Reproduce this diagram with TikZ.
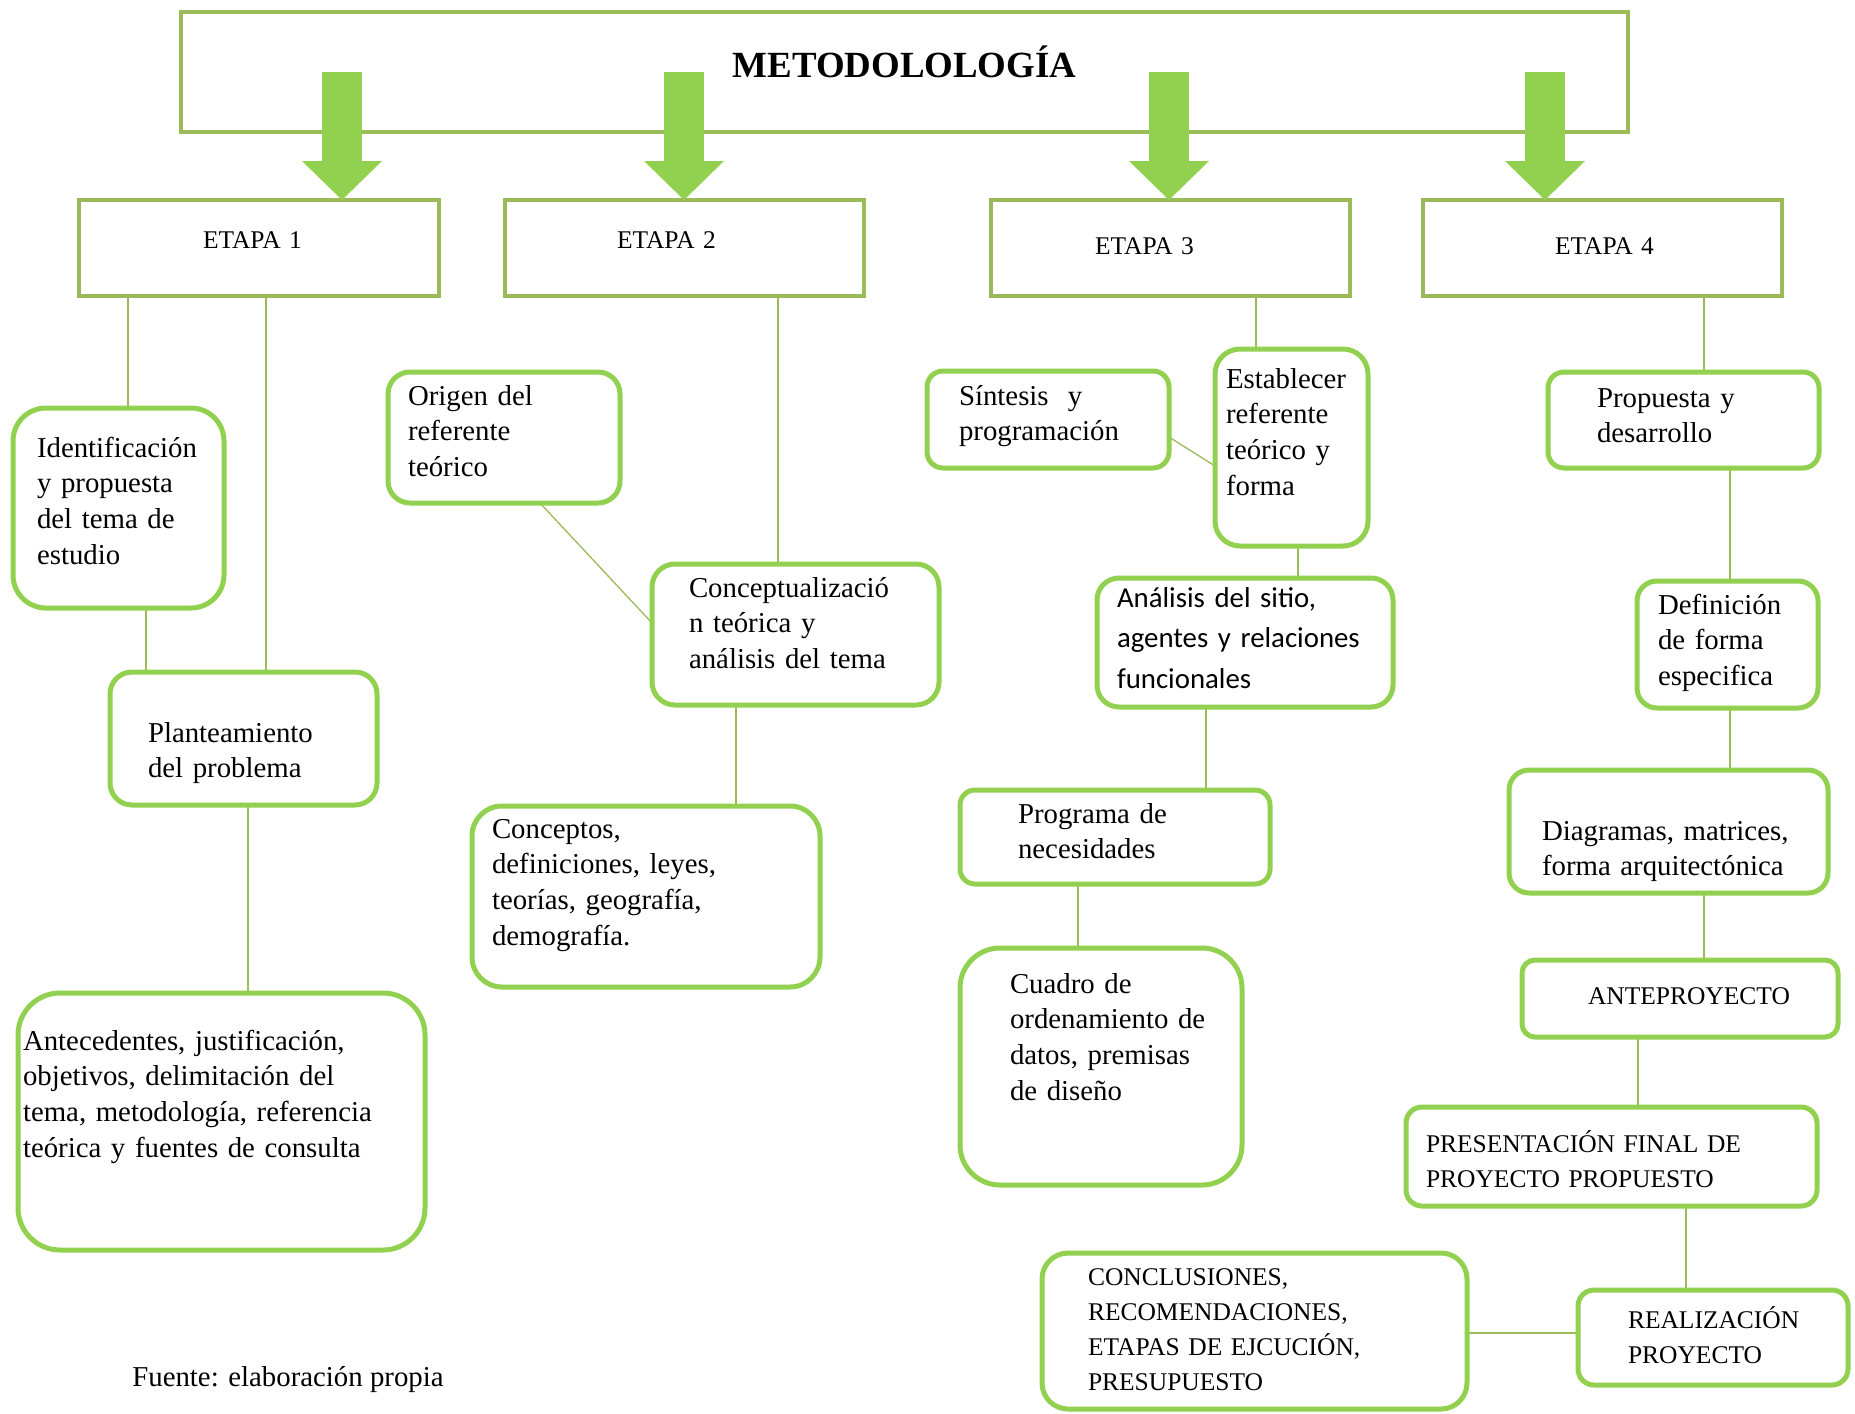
\documentclass[tikz,border=0pt]{standalone}
\usepackage{fontspec}
\setmainfont{Liberation Serif}
\newfontfamily\calibri{Carlito}
\usepackage{tikz}
\usepackage{xcolor}
\usetikzlibrary{arrows.meta,backgrounds}
\definecolor{oliveline}{HTML}{9BBB59}
\definecolor{leafgreen}{HTML}{92D050}
\newlength\px
\setlength\px{0.02cm}
\newcommand\boxfont{\fontsize{16.4}{20.4}\selectfont}
\newcommand\capfont{\fontsize{14.5}{20}\selectfont}
\newcommand\headfont{\fontsize{21}{25}\selectfont\bfseries}
\hyphenpenalty=10000
\exhyphenpenalty=10000
\tikzset{
  lpad/.style={execute at begin node={\leftskip=#1\relax}},
  stagebox/.style={draw=oliveline,line width=3.5\px,fill=white,anchor=north west,
                   inner sep=0pt,outer sep=0pt,align=left,font=\capfont},
  ideabox/.style={draw=leafgreen,line width=5\px,fill=white,anchor=north west,
                  inner sep=0pt,outer sep=0pt,align=left,font=\boxfont},
  capbox/.style={ideabox,font=\capfont},
  link/.style={draw=oliveline,line width=1.3\px},
  bigarrow/.style={draw=leafgreen,line width=0.8cm,
                   -{Triangle[length=0.78cm 0,width=1.6cm 0,line width=0pt 0 0]}}
}

\begin{document}
\begin{tikzpicture}[x=0.02cm,y=-0.02cm]
  \useasboundingbox (0,0) rectangle (1855,1413);
  \node[stagebox,align=center,font=\headfont,text width=1447\px,text height=65\px,text depth=55\px] (metod) at (181,12) {METODOLOLOGÍA};
  \node[stagebox,text width=360\px,text height=48\px,text depth=48\px,lpad=124\px] (e1) at (79,200) {ETAPA 1};
  \node[stagebox,text width=359\px,text height=48\px,text depth=48\px,lpad=112\px] (e2) at (505,200) {ETAPA 2};
  \node[stagebox,text width=359\px,text height=54\px,text depth=42\px,lpad=104\px] (e3) at (991,200) {ETAPA 3};
  \node[stagebox,text width=359\px,text height=54\px,text depth=42\px,lpad=132\px] (e4) at (1423,200) {ETAPA 4};
  % etapa 1
  \node[ideabox,rounded corners=33\px,text width=211\px,text height=49\px,text depth=151\px,lpad=24\px] (ident) at (13,408) {Identificación\\y propuesta\\del tema de\\estudio};
  \node[ideabox,rounded corners=22\px,text width=267\px,text height=70\px,text depth=63\px,lpad=38\px] (plant) at (110,672) {Planteamiento\\del problema};
  \node[ideabox,rounded corners=42\px,text width=407\px,text height=57\px,text depth=200\px,lpad=5\px] (antec) at (18,993) {Antecedentes, justificación,\\objetivos, delimitación del\\tema, metodología, referencia\\teórica y fuentes de consulta};
  % etapa 2
  \node[ideabox,rounded corners=22\px,text width=232\px,text height=33\px,text depth=98\px,lpad=20\px] (origen) at (388,372) {Origen del\\referente\\teórico};
  \node[ideabox,rounded corners=23\px,text width=287\px,text height=33\px,text depth=108\px,lpad=37\px] (concep) at (652,564) {Conceptualizació\\n teórica y\\análisis del tema};
  \node[ideabox,rounded corners=30\px,text width=348\px,text height=32\px,text depth=149\px,lpad=20\px] (concepts) at (472,806) {Conceptos,\\definiciones, leyes,\\teorías, geografía,\\demografía.};
  % etapa 3
  \node[ideabox,rounded corners=16\px,text width=242\px,text height=34\px,text depth=63\px,lpad=32\px] (sint) at (927,371) {Síntesis\ \ y\\programación};
  \node[ideabox,rounded corners=25\px,text width=153\px,text height=39\px,text depth=158\px,lpad=11\px] (estab) at (1215,349) {Establecer\\referente\\teórico y\\forma};
  \node[ideabox,rounded corners=22\px,font=\calibri\fontsize{16.4}{23.3}\selectfont,text width=296\px,text height=29\px,text depth=100\px,lpad=20\px] (anal) at (1097,578) {Análisis del sitio,\\agentes y relaciones\\funcionales};
  \node[ideabox,rounded corners=15\px,text width=310\px,text height=33\px,text depth=61\px,lpad=58\px] (prog) at (960,790) {Programa de\\necesidades};
  \node[ideabox,rounded corners=40\px,text width=282\px,text height=45\px,text depth=192\px,lpad=50\px] (cuadro) at (960,948) {Cuadro de\\ordenamiento de\\datos, premisas\\de diseño};
  % etapa 4
  \node[ideabox,rounded corners=16\px,text width=271\px,text height=35\px,text depth=61\px,lpad=49\px] (prop) at (1548,372) {Propuesta y\\desarrollo};
  \node[ideabox,rounded corners=20\px,text width=181\px,text height=33\px,text depth=94\px,lpad=21\px] (defin) at (1637,581) {Definición\\de forma\\especifica};
  \node[ideabox,rounded corners=20\px,text width=319\px,text height=70\px,text depth=53\px,lpad=33\px] (diag) at (1509,770) {Diagramas, matrices,\\forma arquitectónica};
  \node[capbox,rounded corners=13\px,text width=316\px,text height=44\px,text depth=33\px,lpad=66\px] (ante) at (1522,960) {ANTEPROYECTO};
  \node[capbox,rounded corners=16\px,text width=411\px,text height=45\px,text depth=54\px,lpad=20\px] (pres) at (1406,1107) {PRESENTACIÓN FINAL DE\\PROYECTO PROPUESTO};
  \node[capbox,rounded corners=16\px,text width=270\px,text height=38\px,text depth=57\px,lpad=50\px] (real) at (1578,1290) {REALIZACIÓN\\PROYECTO};
  \node[capbox,rounded corners=26\px,text width=425\px,text height=32\px,text depth=124\px,lpad=46\px] (concl) at (1042,1253) {CONCLUSIONES,\\RECOMENDACIONES,\\ETAPAS DE EJCUCIÓN,\\PRESUPUESTO};
  \node[anchor=base west,font=\boxfont,inner sep=0pt] (fuente) at (132,1386) {Fuente: elaboración propia};

  \begin{pgfonlayer}{background}
    \draw[link] (e1.south west) ++(49,0) coordinate (l1) -- (l1 |- ident.north);
    \draw[link] (e1.south west) ++(187,0) coordinate (l2) -- (l2 |- plant.north);
    \draw[link] (ident.south west) ++(133,0) coordinate (l3) -- (l3 |- plant.north);
    \draw[link] (plant.south west) ++(138,0) coordinate (l4) -- (l4 |- antec.north);
    \draw[link] (e2.south west) ++(273,0) coordinate (l5) -- (l5 |- concep.north);
    \draw[link] (origen.south west) ++(152,0) -- ([yshift=11.5\px]concep.west);
    \draw[link] (concep.south west) ++(84,0) coordinate (l6) -- (l6 |- concepts.north);
    \draw[link] (e3.south west) ++(265,0) coordinate (l7) -- (l7 |- estab.north);
    \draw[link] ([yshift=-17.5\px]sint.east) -- ([yshift=-18.5\px]estab.west);
    \draw[link] (estab.south west) ++(83,0) coordinate (l8) -- (l8 |- anal.north);
    \draw[link] (anal.south west) ++(109,0) coordinate (l9) -- (l9 |- prog.north);
    \draw[link] (prog.south west) ++(118,0) coordinate (l10) -- (l10 |- cuadro.north);
    \draw[link] (e4.south west) ++(281,0) coordinate (l11) -- (l11 |- prop.north);
    \draw[link] (prop.south west) ++(182,0) coordinate (l12) -- (l12 |- defin.north);
    \draw[link] (defin.south west) ++(93,0) coordinate (l13) -- (l13 |- diag.north);
    \draw[link] (diag.south west) ++(195,0) coordinate (l14) -- (l14 |- ante.north);
    \draw[link] (ante.south west) ++(116,0) coordinate (l15) -- (l15 |- pres.north);
    \draw[link] (pres.south west) ++(280,0) coordinate (l16) -- (l16 |- real.north);
    \draw[link] ([yshift=-2\px]concl.east) -- ([yshift=-2\px]concl.east -| real.west);
  \end{pgfonlayer}

  \coordinate (a1) at (342,72);
  \coordinate (a2) at (684,72);
  \coordinate (a3) at (1169,72);
  \coordinate (a4) at (1545,72);
  \draw[bigarrow] (a1) -- (a1 |- e1.north);
  \draw[bigarrow] (a2) -- (a2 |- e2.north);
  \draw[bigarrow] (a3) -- (a3 |- e3.north);
  \draw[bigarrow] (a4) -- (a4 |- e4.north);
\end{tikzpicture}
\end{document}
